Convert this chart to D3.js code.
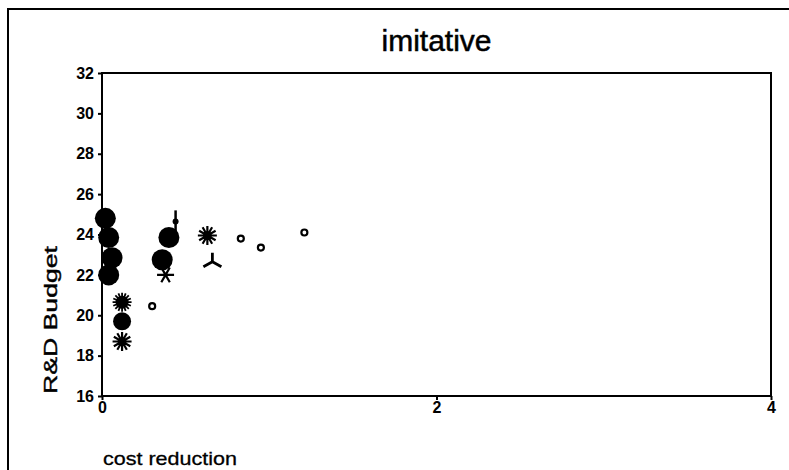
<!DOCTYPE html>
<html>
<head>
<meta charset="utf-8">
<script src="https://cdn.jsdelivr.net/npm/d3@7"></script>
<style>
  body { margin: 0; background: #fff; }
  svg { display: block; font-family: "Liberation Sans", Arial, sans-serif; }
</style>
</head>
<body>
<div id="chart"></div>
<script>
// values
var costReduction = [0.02, 0.04, 0.06, 0.04, 0.12, 0.12, 0.12, 0.30, 0.40, 0.36, 0.38, 0.44, 0.63, 0.66, 0.83, 0.95, 1.21];
var rdBudget      = [24.8, 23.85, 22.85, 22.0, 20.65, 19.7, 18.7, 20.45, 23.85, 22.75, 22.0, 24.65, 23.95, 22.65, 23.8, 23.35, 24.1];
var markerType    = ["disc", "disc", "disc", "disc", "burst", "discS", "asterisk", "ring", "disc", "disc", "star6", "pin", "asterisk", "tri", "ring", "ring", "ring"];
var xTicks = [0, 2, 4];
var yTicks = [16, 18, 20, 22, 24, 26, 28, 30, 32];

var W = 789, H = 470;
var plot = { left: 102, right: 771, top: 73, bottom: 396 };

var svg = d3.select("#chart").append("svg")
    .attr("width", W)
    .attr("height", H);

var x = d3.scaleLinear().domain([0, 4]).range([plot.left, plot.right]);
var y = d3.scaleLinear().domain([16, 32]).range([plot.bottom, plot.top]);

// outer frame (top + left only, like the scan)
svg.append("path")
    .attr("d", "M8,470 L8,9 L789,9")
    .attr("fill", "none")
    .attr("stroke", "#000")
    .attr("stroke-width", 2);

// title
svg.append("text")
    .attr("x", (plot.left + plot.right) / 2)
    .attr("y", 51)
    .attr("text-anchor", "middle")
    .attr("font-size", 30)
    .attr("stroke", "#000")
    .attr("stroke-width", 0.5)
    .text("imitative");

// axes
var yAxis = d3.axisLeft(y).tickValues(yTicks).tickSize(4).tickPadding(4);
var xAxis = d3.axisBottom(x).tickValues(xTicks).tickFormat(d3.format("d")).tickSize(4).tickPadding(2);

var gy = svg.append("g")
    .attr("transform", "translate(" + plot.left + ",0)")
    .call(yAxis);
var gx = svg.append("g")
    .attr("transform", "translate(0," + plot.bottom + ")")
    .call(xAxis);

[gx, gy].forEach(function (g) {
    g.select(".domain").remove();
    g.selectAll("line").attr("stroke", "#000").attr("stroke-width", 2);
    g.selectAll("text")
        .attr("fill", "#000")
        .attr("font-size", 16)
        .attr("font-weight", "bold")
        .attr("font-family", "Liberation Sans, Arial, sans-serif");
});

// plot box
svg.append("rect")
    .attr("x", plot.left)
    .attr("y", plot.top)
    .attr("width", plot.right - plot.left)
    .attr("height", plot.bottom - plot.top)
    .attr("fill", "none")
    .attr("stroke", "#000")
    .attr("stroke-width", 2);

// axis titles
svg.append("text")
    .attr("transform", "translate(57,320) rotate(-90)")
    .attr("text-anchor", "middle")
    .attr("font-size", 18)
    .attr("stroke", "#000")
    .attr("stroke-width", 0.4)
    .attr("textLength", 148)
    .attr("lengthAdjust", "spacingAndGlyphs")
    .text("R&D Budget");

svg.append("text")
    .attr("x", 103)
    .attr("y", 465)
    .attr("font-size", 19)
    .attr("stroke", "#000")
    .attr("stroke-width", 0.3)
    .attr("textLength", 134)
    .attr("lengthAdjust", "spacingAndGlyphs")
    .text("cost reduction");

// marker shapes
function spokes(n, r, offset) {
    var p = "";
    for (var i = 0; i < n; i++) {
        var a = offset + i * 2 * Math.PI / n;
        p += "M0,0L" + (r * Math.cos(a)).toFixed(2) + "," + (r * Math.sin(a)).toFixed(2);
    }
    return p;
}

function drawMarker(g, type) {
    if (type === "disc" || type === "discS") {
        g.append("circle").attr("r", type === "disc" ? 10.5 : 9).attr("fill", "#000");
    } else if (type === "burst") {
        g.append("circle").attr("r", 6.5).attr("fill", "#000");
        g.append("path").attr("d", spokes(16, 9.5, 0))
            .attr("stroke", "#000").attr("stroke-width", 1.8);
    } else if (type === "asterisk") {
        g.append("path").attr("d", spokes(12, 9.5, 0))
            .attr("stroke", "#000").attr("stroke-width", 2.2);
        g.append("circle").attr("r", 3.5).attr("fill", "#000");
    } else if (type === "star6") {
        g.append("path").attr("d", spokes(6, 8.5, 0))
            .attr("stroke", "#000").attr("stroke-width", 2.2);
    } else if (type === "pin") {
        g.append("path").attr("d", "M0,-11L0,10")
            .attr("stroke", "#000").attr("stroke-width", 2.5);
        g.append("circle").attr("r", 3).attr("fill", "#000");
    } else if (type === "tri") {
        g.append("path").attr("d", "M0,0L0,-9M0,0L-9,5M0,0L9,5")
            .attr("stroke", "#000").attr("stroke-width", 2.8);
    } else if (type === "ring") {
        g.append("circle").attr("r", 3).attr("fill", "#fff")
            .attr("stroke", "#000").attr("stroke-width", 2.2);
    }
}

var points = costReduction.map(function (d, i) {
    return { x: d, y: rdBudget[i], type: markerType[i] };
});

svg.append("g").selectAll("g")
    .data(points)
    .enter()
    .append("g")
    .attr("transform", function (d) {
        return "translate(" + x(d.x) + "," + y(d.y) + ")";
    })
    .each(function (d) { drawMarker(d3.select(this), d.type); });
</script>
</body>
</html>
